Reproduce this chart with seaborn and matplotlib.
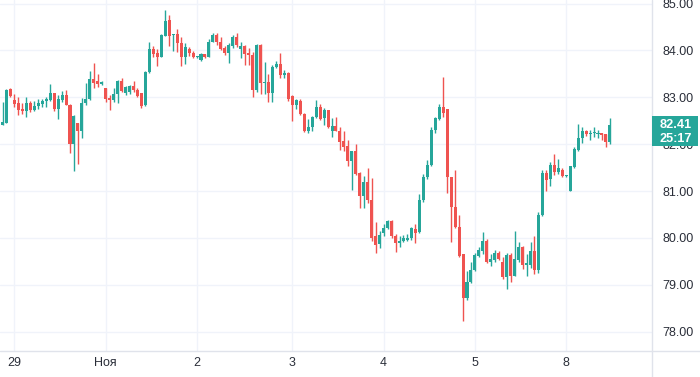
# ─────────────────────────────────────────────────────────────
# plot.py
# Hourly candlestick chart (TradingView look), 28 Oct – 8 Nov
# ─────────────────────────────────────────────────────────────

import matplotlib
matplotlib.use("Agg")
import matplotlib.pyplot as plt
from matplotlib.lines import Line2D
from matplotlib.patches import Rectangle
import numpy as np
import pandas as pd
import seaborn as sns

UP_COL   = "#26a69a"
DOWN_COL = "#ef5350"
GRID_COL = "#f0f3fa"
AXIS_COL = "#e0e3eb"
TEXT_COL = "#2a2e39"

# ── Data ────────────────────────────────────────────────────────
opens = [
    82.41, 82.46, 83.17, 82.94, 82.87, 82.74, 82.70, 82.87, 82.73, 82.81,
    82.86, 82.92, 82.94, 83.10, 82.75, 82.94, 83.04, 82.84, 82.01, 82.45,
    82.29, 82.87, 82.96, 83.40, 83.35, 83.28, 83.20, 82.99, 82.94, 83.07,
    83.35, 83.10, 83.12, 83.24, 83.16, 83.10, 82.83, 83.53, 84.02, 83.95,
    83.87, 84.31, 84.65, 84.32, 84.35, 84.16, 83.87, 84.03, 83.94, 83.86,
    83.80, 83.92, 83.87, 84.19, 84.33, 84.19, 84.06, 83.95, 84.09, 84.29,
    84.03, 84.09, 83.94, 83.91, 83.15, 84.11, 83.31, 83.32, 83.09, 83.64,
    83.72, 83.48, 83.52, 83.02, 82.83, 82.93, 82.65, 82.29, 82.36, 82.59,
    82.80, 82.56, 82.72, 82.28, 82.38, 82.29, 82.06, 81.97, 81.64, 81.85,
    81.38, 80.89, 81.20, 80.80, 80.04, 79.87, 80.11, 80.21, 80.36, 80.05,
    79.89, 79.93, 79.96, 79.99, 80.19, 80.12, 80.80, 81.30, 81.55, 82.31,
    82.53, 82.79, 82.74, 81.29, 80.67, 80.23, 79.66, 78.71, 79.07, 79.31,
    79.62, 79.73, 79.94, 79.48, 79.54, 79.67, 79.48, 79.16, 79.64, 79.19,
    79.54, 79.80, 79.42, 79.43, 79.73, 79.32, 80.48, 81.39, 81.26, 81.55,
    81.41, 81.46, 81.32, 81.01, 81.51, 81.87, 82.14, 82.29, 82.21, 82.23,
    82.22, 82.23, 82.21, 82.05,
]
highs = [
    82.91, 83.17, 83.20, 83.07, 83.00, 82.87, 83.00, 82.93, 82.92, 82.96,
    82.97, 83.00, 83.28, 83.10, 83.04, 83.14, 83.16, 82.85, 82.62, 82.45,
    82.98, 83.30, 83.56, 83.74, 83.50, 83.35, 83.20, 83.05, 83.19, 83.37,
    83.42, 83.25, 83.26, 83.35, 83.20, 83.10, 83.57, 84.18, 84.09, 84.02,
    84.35, 84.86, 84.75, 84.36, 84.45, 84.28, 84.15, 84.08, 83.98, 83.88,
    83.95, 83.93, 84.25, 84.37, 84.37, 84.29, 84.10, 84.15, 84.33, 84.38,
    84.18, 84.11, 84.05, 83.96, 84.13, 84.13, 83.75, 83.50, 83.68, 83.77,
    83.94, 83.59, 83.54, 83.04, 82.97, 82.97, 82.66, 82.54, 82.61, 82.95,
    82.85, 82.77, 82.73, 82.56, 82.59, 82.36, 82.28, 82.08, 81.86, 82.01,
    81.40, 81.33, 81.49, 81.28, 80.34, 80.14, 80.30, 80.39, 80.39, 80.09,
    80.05, 80.07, 80.09, 80.23, 80.30, 80.93, 81.37, 81.67, 82.37, 82.59,
    82.86, 83.43, 82.76, 81.29, 81.46, 80.48, 79.66, 79.30, 79.48, 79.67,
    79.80, 80.12, 79.98, 79.66, 79.74, 79.73, 79.59, 79.69, 79.69, 80.14,
    79.91, 79.82, 79.66, 79.92, 80.05, 80.55, 81.44, 81.44, 81.62, 81.79,
    81.69, 81.50, 81.34, 81.53, 81.93, 82.44, 82.37, 82.31, 82.31, 82.36,
    82.31, 82.24, 82.22, 82.55,
]
lows = [
    82.40, 82.45, 83.00, 82.79, 82.62, 82.65, 82.57, 82.69, 82.70, 82.75,
    82.79, 82.79, 82.93, 82.70, 82.54, 82.89, 82.84, 81.82, 81.42, 81.58,
    82.13, 82.84, 82.95, 83.19, 83.23, 83.26, 82.91, 82.73, 82.89, 82.87,
    83.12, 83.05, 83.08, 83.12, 83.00, 82.77, 82.81, 83.52, 83.85, 83.67,
    83.86, 84.30, 84.10, 83.98, 83.96, 83.67, 83.71, 83.89, 83.83, 83.84,
    83.77, 83.83, 83.85, 84.17, 84.12, 84.01, 83.91, 83.74, 84.05, 84.07,
    83.83, 83.69, 83.69, 83.00, 83.11, 83.06, 83.06, 82.90, 82.91, 83.62,
    83.41, 83.41, 82.93, 82.50, 82.75, 82.63, 82.27, 82.24, 82.29, 82.56,
    82.52, 82.42, 82.35, 82.15, 82.28, 81.88, 81.85, 81.54, 81.02, 81.35,
    80.63, 80.65, 80.74, 79.94, 79.67, 79.78, 80.05, 80.19, 80.01, 79.71,
    79.80, 79.91, 79.93, 79.96, 79.89, 80.11, 80.76, 81.26, 81.54, 82.23,
    82.51, 82.59, 80.96, 79.91, 80.21, 79.59, 78.23, 78.67, 79.05, 79.30,
    79.59, 79.66, 79.46, 79.41, 79.48, 79.53, 79.12, 78.92, 79.07, 79.18,
    79.48, 79.34, 79.19, 79.36, 79.23, 79.26, 80.46, 81.01, 81.10, 81.34,
    81.37, 81.31, 81.31, 81.00, 81.50, 81.86, 82.03, 82.17, 82.10, 82.16,
    82.14, 82.09, 81.94, 82.01,
]
closes = [
    82.47, 83.16, 83.03, 82.86, 82.72, 82.70, 82.87, 82.73, 82.82, 82.87,
    82.92, 82.97, 83.10, 82.75, 82.97, 83.04, 82.84, 82.01, 82.60, 82.29,
    82.87, 82.96, 83.40, 83.30, 83.28, 83.32, 82.97, 82.94, 83.07, 83.35,
    83.14, 83.21, 83.24, 83.15, 83.03, 82.81, 83.55, 84.02, 83.92, 83.86,
    84.33, 84.63, 84.31, 84.35, 84.16, 83.85, 84.08, 83.94, 83.86, 83.87,
    83.92, 83.86, 84.19, 84.33, 84.19, 84.03, 83.94, 84.11, 84.29, 84.12,
    84.09, 83.92, 83.91, 83.15, 84.11, 83.31, 83.33, 83.09, 83.64, 83.72,
    83.48, 83.52, 82.97, 82.83, 82.95, 82.65, 82.29, 82.36, 82.59, 82.80,
    82.54, 82.72, 82.36, 82.38, 82.29, 82.04, 81.95, 81.64, 81.85, 81.37,
    80.89, 81.20, 80.80, 80.01, 79.86, 80.06, 80.21, 80.36, 80.04, 79.89,
    79.94, 79.99, 80.01, 80.21, 80.11, 80.82, 81.31, 81.56, 82.31, 82.55,
    82.79, 82.66, 81.29, 80.66, 80.23, 79.62, 78.73, 79.07, 79.31, 79.64,
    79.74, 79.94, 79.48, 79.55, 79.69, 79.55, 79.16, 79.64, 79.19, 79.55,
    79.80, 79.42, 79.46, 79.73, 79.32, 80.50, 81.39, 81.23, 81.55, 81.41,
    81.49, 81.32, 81.33, 81.53, 81.89, 82.14, 82.29, 82.21, 82.24, 82.26,
    82.23, 82.19, 82.05, 82.41,
]

# first hourly bar of each day and its label
day_bars   = [3, 26, 49, 73, 96, 119, 142]
day_labels = ["29", "Ноя", "2", "3", "4", "5", "8"]

price_ticks = [78, 79, 80, 81, 82, 83, 84, 85]
last_price  = "82.41"
countdown   = "25:17"


def build_frame() -> pd.DataFrame:
    df = pd.DataFrame({"open": opens, "high": highs,
                       "low": lows, "close": closes})
    df["bar"] = np.arange(len(df))
    df["up"]  = df["close"] >= df["open"]
    return df


# ── Candlestick plot ────────────────────────────────────────────
def plot_candles() -> None:
    sns.set_theme(style="white")
    plt.rcParams["font.family"] = ["Liberation Sans", "DejaVu Sans"]

    df = build_frame()
    fig = plt.figure(figsize=(7.0, 3.77), dpi=100)
    ax = fig.add_axes([0, 26 / 377, 652 / 700, 351 / 377])

    # grid
    for p in price_ticks:
        ax.axhline(p, color=GRID_COL, linewidth=1, zorder=0)
    for b in day_bars:
        ax.axvline(b, color=GRID_COL, linewidth=1, zorder=0)

    colors = np.where(df["up"], UP_COL, DOWN_COL)

    # wicks
    ax.vlines(df["bar"], df["low"], df["high"], colors=colors,
              linewidth=1.0, zorder=2)

    # bodies
    body_lo = df[["open", "close"]].min(axis=1)
    body_h  = (df["close"] - df["open"]).abs().clip(lower=0.015)
    ax.bar(df["bar"], body_h, bottom=body_lo, width=0.76,
           color=colors, linewidth=0, zorder=3)

    ax.set_xlim(-0.63, 163.6)
    ax.set_ylim(77.59, 85.075)

    ax.set_xticks(day_bars)
    ax.set_xticklabels(day_labels)
    ax.set_yticks(price_ticks)
    ax.set_yticklabels([f"{p:.2f}" for p in price_ticks])
    ax.yaxis.tick_right()
    ax.tick_params(axis="y", length=0, pad=7.5, labelsize=9,
                   labelcolor=TEXT_COL)
    ax.tick_params(axis="x", length=0, pad=4.5, labelsize=9,
                   labelcolor=TEXT_COL)
    for s in ax.spines.values():
        s.set_visible(False)
    ax.grid(False)

    # pane separators
    fig.add_artist(Line2D([652 / 700, 652 / 700], [0, 1],
                          color=AXIS_COL, linewidth=1))
    fig.add_artist(Line2D([0, 1], [26 / 377, 26 / 377],
                          color=AXIS_COL, linewidth=1))

    # last price badge
    fig.add_artist(Rectangle((651.7 / 700, 1 - 146 / 377),
                             46.6 / 700, 30 / 377,
                             facecolor=UP_COL, edgecolor="none", zorder=5))
    fig.text(676 / 700, 1 - 124.5 / 377, last_price, color="white",
             fontsize=9.2, fontweight="bold", ha="center", va="center",
             zorder=6)
    fig.text(676 / 700, 1 - 139 / 377, countdown, color="white",
             fontsize=9.2, fontweight="bold", ha="center", va="center",
             zorder=6)

    fig.savefig("out.png", dpi=100, facecolor="white")
    plt.close(fig)


def main():
    plot_candles()


if __name__ == "__main__":
    main()
